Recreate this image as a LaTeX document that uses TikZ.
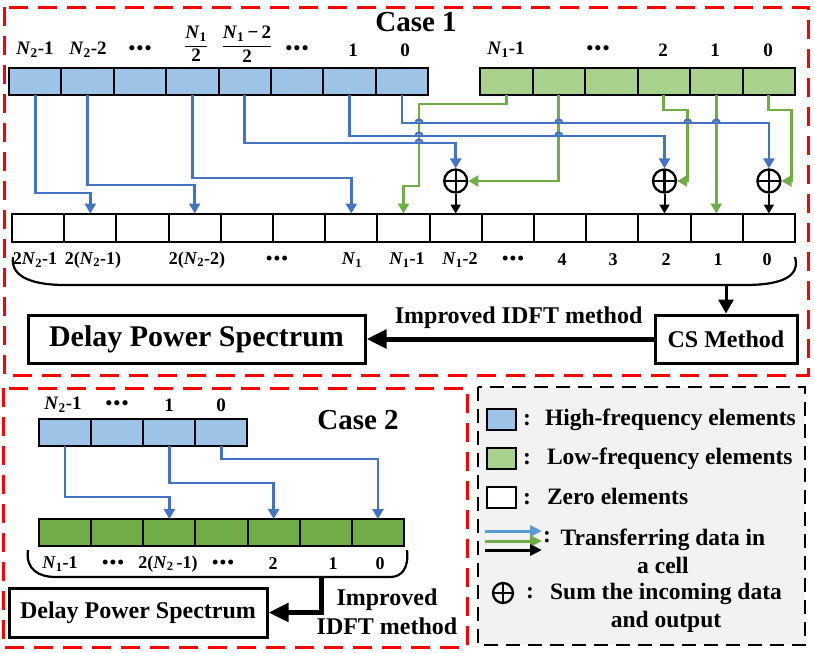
\documentclass[tikz,border=0pt]{standalone}
\usepackage{fontspec}
\setmainfont{Liberation Serif}
\usetikzlibrary{positioning,arrows.meta}
\definecolor{hiC}{HTML}{9DC3E6}
\definecolor{loC}{HTML}{A9D18E}
\definecolor{loDarkC}{HTML}{70AD47}
\definecolor{hiLineC}{HTML}{4472C4}
\definecolor{loLineC}{HTML}{70AD47}
\definecolor{legArrowC}{HTML}{5B9BD5}
\definecolor{legendC}{HTML}{F2F2F2}
\newcommand{\Nn}[1]{\textit{N}\textsubscript{#1}}
\newcommand{\threedots}{\textbullet\kern1.5pt\textbullet\kern1.5pt\textbullet}
\tikzset{
  cell/.style={draw, line width=2pt, minimum width=52.2pt, minimum height=27pt,
               inner sep=0pt, outer sep=0pt},
  hicell/.style={cell, fill=hiC},
  locell/.style={cell, fill=loC},
  zcell/.style={cell, fill=white, minimum height=28pt},
  gcell/.style={cell, fill=loDarkC},
  idx/.style={font=\fontsize{19}{22}\selectfont\bfseries, inner sep=0pt},
  idxs/.style={font=\fontsize{18}{22}\selectfont\bfseries, inner sep=0pt},
  title/.style={font=\fontsize{29}{34}\selectfont\bfseries, inner sep=0pt},
  f24/.style={font=\fontsize{24}{29}\selectfont\bfseries, inner sep=0pt},
  legtext/.style={font=\fontsize{23.5}{28}\selectfont\bfseries, inner sep=0pt},
  resbox/.style={draw, line width=3pt, inner sep=0pt},
  hiarr/.style={draw=hiLineC, line width=2.8pt, -{Triangle[length=10pt,width=11pt]}},
  loarr/.style={draw=loLineC, line width=2.8pt, -{Triangle[length=10pt,width=11pt]}},
  jump/.style={draw=hiLineC, line width=2.2pt},
  sumarr/.style={line width=2pt, -{Triangle[length=9pt,width=10pt]}},
  legarr/.style={line width=3pt, -{Triangle[length=12pt,width=11pt]}},
  midarr/.style={line width=3pt, -{Triangle[length=14pt,width=15pt]}},
  bigarr/.style={line width=5pt, -{Triangle[length=20pt,width=18pt]}},
  brace/.style={line width=2.2pt},
  sumnode/.style={circle, draw, line width=2.3pt, minimum size=23pt, inner sep=0pt,
    path picture={\draw[line width=2.3pt] (path picture bounding box.north) -- (path picture bounding box.south)
      (path picture bounding box.west) -- (path picture bounding box.east);}},
  casebox/.style={draw=red, line width=3pt, dash pattern=on 19pt off 10pt},
  legbox/.style={draw, line width=2.5pt, dash pattern=on 14pt off 8pt},
}

\begin{document}
\begin{tikzpicture}[x=1pt, y=-1pt]
\useasboundingbox (0,0) rectangle (814,653);
% frames
\fill[legendC] (478,387) rectangle (805,645);
\draw[legbox] (478,387) rectangle (805,645);
\draw[casebox] (4,7) rectangle (808,375);
\draw[casebox] (3,388) rectangle (467,647);

% ---- Case 1
\node[title] (case1) at (416,22) {Case 1};
\foreach \i in {0,...,7}
  \node[hicell, minimum width=52.4pt] (hi\i) at ({9+52.4*(\i+0.5)},81.5) {};
\foreach \i in {0,...,5}
  \node[locell, minimum width=52.5pt] (lo\i) at ({480+52.5*(\i+0.5)},81.5) {};
\foreach \i in {0,...,14}
  \node[zcell] (z\i) at ({12+52.2*(\i+0.5)},227.5) {};
\foreach \i in {8,12,14}
  \node[sumnode] (s\i) at ({12+52.2*(\i+0.5)},181) {};

\foreach \x/\t in {35/{\Nn{2}-1}, 88/{\Nn{2}-2}, 140/\threedots, 297/\threedots, 353/1, 405/0,
                   506/{\Nn{1}-1}, 598/\threedots, 663/2, 715/1, 768/0}
  \node[idx] (top\x) at (\x,50) {\t};
\node[idx] (fracA) at (196,44) {${\displaystyle\frac{\hbox{\Nn{1}}}{\hbox{2}}}$};
\node[idx] (fracB) at (247,44) {${\displaystyle\frac{\hbox{\Nn{1}\,−\,2}}{\hbox{2}}}$};
\foreach \x/\t in {35/{2\Nn{2}-1}, 93/{2(\Nn{2}-1)}, 197/{2(\Nn{2}-2)}, 277/\threedots, 352/\Nn{1},
                   407/{\Nn{1}-1}, 460/{\Nn{1}-2}, 513/\threedots, 562/4, 613/3, 666/2, 718/1, 767/0}
  \node[idxs] (bot\x) at (\x,260) {\t};

% green paths
\draw[loarr] (lo0.south) -- ++(0,9) -| ++(-87.25,82) -| (z7.north);
\draw[loarr] (lo1.south) |- (s8.east);
\draw[loarr] (lo3.south) -- ++(0,15) -- ++(24,0) |- (s12.east);
\draw[loarr] (lo4.south) -- (lo4.south |- z13.north);
\draw[loarr] (lo5.south) -- ++(0,15) -- ++(23,0) |- (s14.east);
% blue paths
\draw[hiarr] (hi0.south) -- ++(0,98) -| (z1.north);
\draw[hiarr] (hi1.south) -- ++(0,90) -| (z3.north);
\draw[hiarr] (hi3.south) -- ++(0,83) -| (z6.north);
\draw[hiarr] (hi4.south) -- ++(0,48) -| (s8.north);
\draw[hiarr] (hi6.south) -- ++(0,41) -| (s12.north);
\draw[hiarr] (hi7.south) -- ++(0,28) -| (s14.north);
% little jumps where blue passes green
\foreach \x/\y in {419/123, 419/136, 419/143, 558.75/123, 558.75/136, 687.75/123, 716.25/123}
  \draw[jump] (\x-3.5,\y) arc[start angle=180, end angle=360, radius=3.5];
\foreach \i in {8,12,14}
  \draw[sumarr] (s\i.south) -- (z\i.north);

\draw[brace] (13,257) .. controls (10,278) and (35,285) .. (65,285) -- (745,285)
  .. controls (785,285) and (800,275) .. (795,257);
\coordinate (br1) at (726,285);
\node[resbox, minimum width=337pt, minimum height=48pt, font=\fontsize{30}{36}\selectfont\bfseries]
  (dps1) at (196.5,339) {Delay Power Spectrum};
\node[resbox, f24, minimum width=142pt, minimum height=48pt] (cs) at (726,339) {CS Method};
\draw[midarr] (br1) -- (cs.north);
\draw[bigarr] (cs.west) -- node[f24, above=8pt, pos=0.47] (idft1) {Improved IDFT method} (dps1.east);

% ---- Case 2
\node[title] (case2) at (358,420) {Case 2};
\foreach \i in {0,...,3}
  \node[hicell, minimum width=52.1pt] (hb\i) at ({39+52.1*(\i+0.5)},432.5) {};
\foreach \i in {0,...,6}
  \node[gcell, minimum width=52.15pt] (g\i) at ({39+52.15*(\i+0.5)},532.5) {};
\foreach \x/\t in {63/{\Nn{2}-1}, 117/\threedots, 169/1, 221/0}
  \node[idx] (ctop\x) at (\x,405) {\t};
\foreach \x/\t in {60/{\Nn{1}-1}, 113/\threedots, 168/{2(\Nn{2}\,-1)}, 223/\threedots, 273/2, 333/1, 380/0}
  \node[idxs] (cbot\x) at (\x,564) {\t};
\draw[hiarr] (hb0.south) -- ++(0,51) -| (g2.north);
\draw[hiarr] (hb2.south) -- ++(0,37) -| (g4.north);
\draw[hiarr] (hb3.south) -- ++(0,13) -| (g6.north);

\draw[brace] (28,550) .. controls (25,570) and (40,577) .. (55,577) -- (390,577)
  .. controls (402,577) and (409,568) .. (407,550);
\coordinate (br2) at (321,577);
\node[resbox, f24, minimum width=258pt, minimum height=49pt] (dps2) at (138,612.5) {Delay Power Spectrum};
\draw[bigarr] (br2) |- (dps2.east);
\node[f24, align=center] (idft2) at (387,612) {Improved\\IDFT method};

% ---- legend
\node[cell, fill=hiC, minimum width=29pt, minimum height=21pt] (lgHi) at (501.5,419.5) {};
\node[cell, fill=loC, minimum width=29pt, minimum height=21pt] (lgLo) at (501.5,458.5) {};
\node[cell, fill=white, minimum width=29pt, minimum height=21pt] (lgZero) at (501.5,497) {};
\node[legtext, right=7pt of lgHi] (lgHiT) {:\hspace{14pt}High-frequency elements};
\node[legtext, right=7pt of lgLo] (lgLoT) {:\hspace{16pt}Low-frequency elements};
\node[legtext, right=7pt of lgZero] (lgZeroT) {:\hspace{16pt}Zero elements};
\foreach \y/\c in {531/legArrowC, 541/loLineC, 550/black} {
  \coordinate (ls\y) at (485,\y);
  \coordinate (le\y) at (542,\y);
  \draw[legarr, draw=\c] (ls\y) -- (le\y);
}
\node[legtext] (lgArrC) at (547,537) {:};
\node[legtext, align=center] (lgArrT) at (663,551) {Transferring data in\\a cell};
\node[sumnode, minimum size=20pt] (lgSum) at (503,593) {};
\node[legtext] (lgSumC) at (530,593) {:};
\node[legtext, align=center] (lgSumT) at (666,607.5) {Sum the incoming data\\and output};
\end{tikzpicture}
\end{document}
